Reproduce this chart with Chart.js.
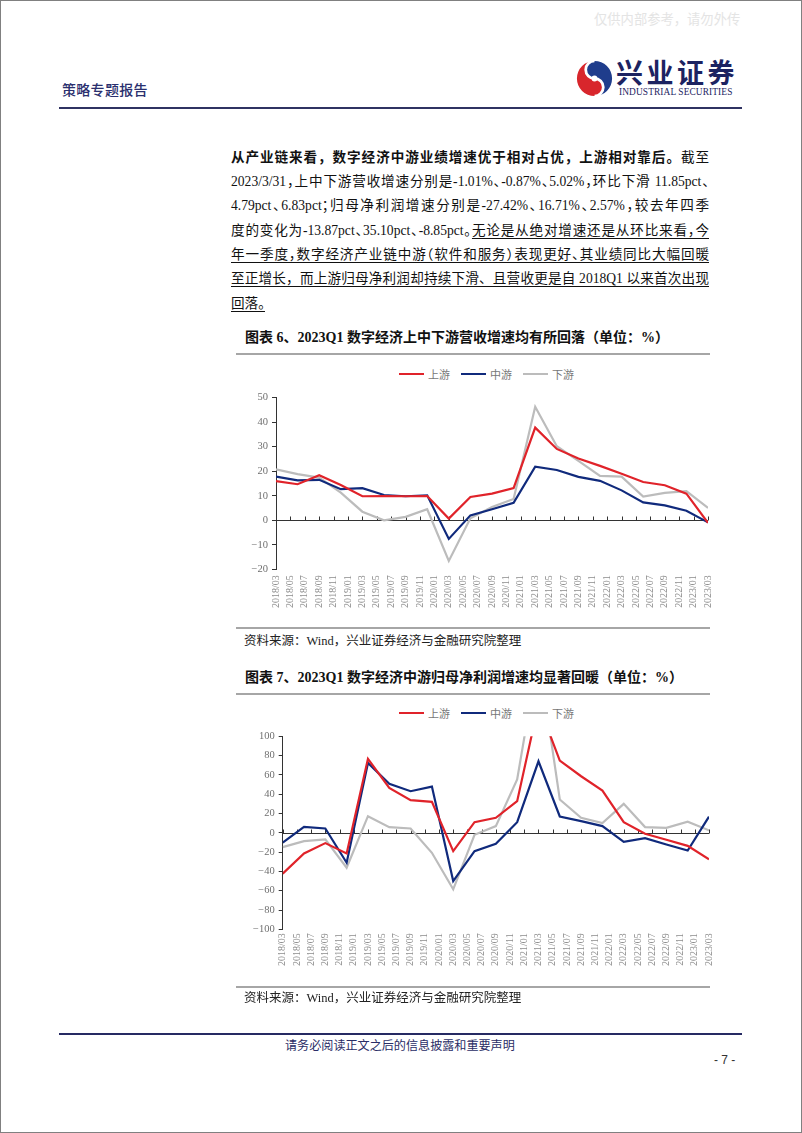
<!DOCTYPE html>
<html>
<head>
<meta charset="utf-8">
<script src="https://cdn.jsdelivr.net/npm/chart.js@4.4.1/dist/chart.umd.min.js"></script>
<style>
  body { margin: 0; background: #fff; }
  #page {
    position: relative; width: 802px; height: 1133px; box-sizing: border-box;
    border: 1px solid #808080; overflow: hidden; background: #fff;
    font-family: "Liberation Serif", "Noto Sans CJK SC", serif; color: #111;
  }
  .abs { position: absolute; }
  .rule { position: absolute; height: 0; }
  .ln {
    position: absolute; left: 230px; width: 478px; height: 24.3px; line-height: 24.3px;
    font-size: 13.6px; text-align: justify; text-align-last: justify;
    font-feature-settings: "halt";
  }
  .ln.full { font-feature-settings: normal; }
  .ln.last { text-align-last: left; }
  .ln b { font-weight: 700; }
  .ul { text-decoration: underline; text-underline-offset: 3px; text-decoration-thickness: 1px; }
  .ttl { position: absolute; left: 244px; font-size: 14px; font-weight: 700; line-height: 18px; white-space: nowrap; }
  .src { position: absolute; left: 243px; font-size: 12.5px; line-height: 16px; color: #222; white-space: nowrap; }
  .legend { position: absolute; left: 398px; display: flex; align-items: center; font-family: "Noto Sans CJK SC", sans-serif; font-size: 11px; color: #777; }
  .legend .item { display: flex; align-items: center; margin-right: 11px; }
  .legend .swatch { width: 25px; height: 2px; margin-right: 4px; }
  canvas { position: absolute; }
</style>
</head>
<body>
<div id="page">
  <div class="abs" style="left:593px;top:8px;font-family:'Noto Sans CJK SC';font-size:13.3px;color:#e4e4e4;white-space:nowrap;">仅供内部参考，请勿外传</div>
  <div class="abs" style="left:61px;top:78px;font-family:'Noto Sans CJK SC';font-size:14px;font-weight:500;color:#2a2f6e;letter-spacing:0.3px;white-space:nowrap;">策略专题报告</div>

  <svg class="abs" style="left:575px;top:59px;" width="37" height="37" viewBox="-20 -20 40 40">
    <path d="M 0,-19 A 19 19 0 0 0 0,19 A 9.5 9.5 0 0 0 0,0 A 9.5 9.5 0 0 1 0,-19 Z" fill="#d8262c"/>
    <path d="M 0,-19 A 19 19 0 0 1 0,19 A 9.5 9.5 0 0 0 0,0 A 9.5 9.5 0 0 1 0,-19 Z" fill="#1f3d8c"/>
    <path d="M 0,-19 A 9.5 9.5 0 0 0 0,0 A 9.5 9.5 0 0 1 0,19" fill="none" stroke="#fff" stroke-width="3"/>
    <circle cx="0" cy="0" r="3.2" fill="#fff"/>
  </svg>
  <div class="abs" style="left:615px;top:56px;font-family:'Noto Sans CJK SC';font-size:27px;font-weight:700;color:#1c2361;letter-spacing:3.5px;white-space:nowrap;line-height:30px;">兴业证券</div>
  <div class="abs" style="left:618px;top:86px;font-family:'Liberation Serif';font-size:9.4px;color:#1c2361;white-space:nowrap;line-height:10px;letter-spacing:0.1px;">INDUSTRIAL SECURITIES</div>
  <div class="rule" style="left:58px;width:683px;top:106px;border-top:2px solid #2f3262;"></div>

  <div class="ln full" style="top:144.8px;"><b>从产业链来看，数字经济中游业绩增速优于相对占优，上游相对靠后。</b>截至</div>
  <div class="ln" style="top:169.1px;">2023/3/31，上中下游营收增速分别是-1.01%、-0.87%、5.02%，环比下滑 11.85pct、</div>
  <div class="ln" style="top:193.4px;">4.79pct、6.83pct；归母净利润增速分别是-27.42%、16.71%、2.57%，较去年四季</div>
  <div class="ln" style="top:217.7px;">度的变化为-13.87pct、35.10pct、-8.85pct。<span class="ul">无论是从绝对增速还是从环比来看，今</span></div>
  <div class="ln ul" style="top:242px;">年一季度，数字经济产业链中游（软件和服务）表现更好、其业绩同比大幅回暖</div>
  <div class="ln ul full" style="top:266.3px;">至正增长，而上游归母净利润却持续下滑、且营收更是自 2018Q1 以来首次出现</div>
  <div class="ln last" style="top:290.6px;"><span class="ul">回落。</span></div>

  <div class="ttl" style="top:328px;">图表 6、2023Q1 数字经济上中下游营收增速均有所回落（单位：%）</div>
  <div class="rule" style="left:235px;width:474px;top:352px;border-top:2px solid #a6a6a6;"></div>
  <div class="legend" id="legend1" style="top:365px;"></div>
  <canvas id="chart1" width="496" height="228" style="left:229px;top:385px;"></canvas>
  <div class="rule" style="left:235px;width:474px;top:626px;border-top:2px solid #a6a6a6;"></div>
  <div class="src" style="top:632px;">资料来源：Wind，兴业证券经济与金融研究院整理</div>

  <div class="ttl" style="top:668px;">图表 7、2023Q1 数字经济中游归母净利润增速均显著回暖（单位：%）</div>
  <div class="rule" style="left:235px;width:474px;top:692px;border-top:2px solid #a6a6a6;"></div>
  <div class="legend" id="legend2" style="top:704px;"></div>
  <canvas id="chart2" width="489" height="263" style="left:235px;top:725px;"></canvas>
  <div class="rule" style="left:235px;width:474px;top:985px;border-top:2px solid #a6a6a6;"></div>
  <div class="src" style="top:989px;">资料来源：Wind，兴业证券经济与金融研究院整理</div>

  <div class="rule" style="left:58px;width:683px;top:1032px;border-top:2.5px solid #262a63;"></div>
  <div class="abs" style="left:284px;top:1035px;font-family:'Noto Sans CJK SC';font-size:12.1px;color:#2a2d66;white-space:nowrap;">请务必阅读正文之后的信息披露和重要声明</div>
  <div class="abs" style="left:713px;top:1052px;font-family:'Liberation Sans';font-size:12px;color:#333;white-space:nowrap;">- 7 -</div>
</div>

<script>
// quarters plotted
const periods = ['2018/03', '2018/06', '2018/09', '2018/12', '2019/03', '2019/06', '2019/09', '2019/12',
  '2020/03', '2020/06', '2020/09', '2020/12', '2021/03', '2021/06', '2021/09', '2021/12',
  '2022/03', '2022/06', '2022/09', '2022/12', '2023/03'];

// x axis labels (every two months)
const tickLabels = ['2018/03', '2018/05', '2018/07', '2018/09', '2018/11', '2019/01', '2019/03', '2019/05',
  '2019/07', '2019/09', '2019/11', '2020/01', '2020/03', '2020/05', '2020/07', '2020/09', '2020/11',
  '2021/01', '2021/03', '2021/05', '2021/07', '2021/09', '2021/11', '2022/01', '2022/03', '2022/05',
  '2022/07', '2022/09', '2022/11', '2023/01', '2023/03'];

const seriesNames = ['上游', '中游', '下游'];
const seriesColors = ['#e0232a', '#102a7c', '#bcbcbc'];

// 营收增速 (%)
const revUp = [16.0, 14.7, 18.4, 14.4, 9.8, 9.9, 9.8, 9.9, 0.7, 9.5, 10.9, 13.1, 37.8, 29.1, 25.2, 22.2, 19.0, 15.6, 14.3, 10.84, -1.01];
const revMid = [17.8, 16.3, 16.5, 12.7, 13.1, 10.3, 9.8, 10.2, -7.6, 2.0, 4.5, 7.1, 21.9, 20.5, 17.7, 16.1, 12.2, 7.3, 6.1, 3.92, -0.87];
const revDown = [20.8, 18.8, 17.4, 11.3, 3.5, 0.0, 1.4, 4.5, -16.6, 0.8, 5.4, 8.7, 46.3, 30.2, 24.2, 18.1, 17.8, 9.7, 11.2, 11.85, 5.02];

// 归母净利润增速 (%)
const npUp = [-42.4, -21.4, -10.7, -21.4, 76.6, 46.6, 33.8, 32.1, -19.0, 11.0, 15.5, 32.8, 133, 74.8, 58.6, 43.8, 11.0, -1.0, -7.2, -13.55, -27.42];
const npMid = [-10.3, 6.2, 4.5, -31.0, 72.4, 50.7, 43.1, 47.9, -50.0, -19.0, -11.4, 11.0, 74.1, 16.9, 12.1, 6.9, -9.3, -5.5, -12.1, -18.39, 16.71];
const npDown = [-14.8, -8.6, -6.9, -36.2, 17.2, 5.9, 4.5, -20.7, -58.6, -2.0, 6.9, 55.2, 185, 34.5, 15.5, 10.0, 30.0, 5.9, 5.2, 11.42, 2.57];

// months since 2018/03
function monthIndex(p) {
  const [y, m] = p.split('/').map(Number);
  return (y - 2018) * 12 + (m - 3);
}

function toPoints(values) {
  return values.map((v, i) => ({ x: monthIndex(periods[i]), y: v }));
}

function fmt(v) {
  return v < 0 ? '\u2212' + Math.abs(v) : String(v);
}

// zero line with small upward ticks
const zeroAxis = {
  id: 'zeroAxis',
  beforeDatasetsDraw(chart) {
    const { ctx, chartArea, scales } = chart;
    const y0 = Math.round(scales.y.getPixelForValue(0)) + 0.5;
    ctx.save();
    ctx.strokeStyle = '#333';
    ctx.lineWidth = 1;
    ctx.beginPath();
    ctx.moveTo(chartArea.left, y0);
    ctx.lineTo(chartArea.right, y0);
    scales.x.ticks.forEach((t) => {
      const x = Math.round(scales.x.getPixelForValue(t.value)) + 0.5;
      ctx.moveTo(x, y0);
      ctx.lineTo(x, y0 - 4);
    });
    ctx.stroke();
    ctx.restore();
  },
};

function buildLegend(id) {
  const el = document.getElementById(id);
  seriesNames.forEach((name, i) => {
    const item = document.createElement('div');
    item.className = 'item';
    item.innerHTML = '<span class="swatch" style="background:' + seriesColors[i] + '"></span>' + name;
    el.appendChild(item);
  });
}

function makeChart(id, series, yMin, yMax, step, yWidth, xHeight, pad, labelPad) {
  const ctx = document.getElementById(id).getContext('2d');
  return new Chart(ctx, {
    type: 'line',
    data: {
      datasets: series.map((s, i) => ({
        label: seriesNames[i],
        data: toPoints(s),
        borderColor: seriesColors[i],
        borderWidth: 2.2,
        pointRadius: 0,
        fill: false,
        tension: 0,
      })),
    },
    options: {
      responsive: false,
      animation: false,
      devicePixelRatio: 1,
      layout: { padding: pad },
      plugins: { legend: { display: false }, tooltip: { enabled: false } },
      scales: {
        x: {
          type: 'linear',
          min: 0,
          max: 60,
          grid: { display: false, drawTicks: false },
          border: { display: false },
          ticks: {
            stepSize: 2,
            autoSkip: false,
            minRotation: 90,
            maxRotation: 90,
            padding: labelPad,
            color: '#8c8c8c',
            font: { family: 'Liberation Serif', size: 10 },
            callback: (v) => tickLabels[v / 2],
          },
          afterFit: (scale) => { scale.height = xHeight; },
        },
        y: {
          min: yMin,
          max: yMax,
          grid: { drawOnChartArea: false, drawTicks: true, tickLength: 4, color: '#333' },
          border: { display: true, color: '#333', width: 1 },
          ticks: {
            stepSize: step,
            padding: 4,
            color: '#6f6f6f',
            font: { family: 'Liberation Serif', size: 10.5 },
            callback: (v) => fmt(v),
          },
          afterFit: (scale) => { scale.width = yWidth; },
        },
      },
    },
    plugins: [zeroAxis],
  });
}

buildLegend('legend1');
buildLegend('legend2');
makeChart('chart1', [revUp, revMid, revDown], -20, 50, 10, 46, 44.7, { top: 11.7, right: 0, left: 0, bottom: 0 }, 6);
makeChart('chart2', [npUp, npMid, npDown], -100, 100, 20, 46.7, 59.7, { top: 10, right: 0, left: 0, bottom: 0 }, 4);
</script>
</body>
</html>
